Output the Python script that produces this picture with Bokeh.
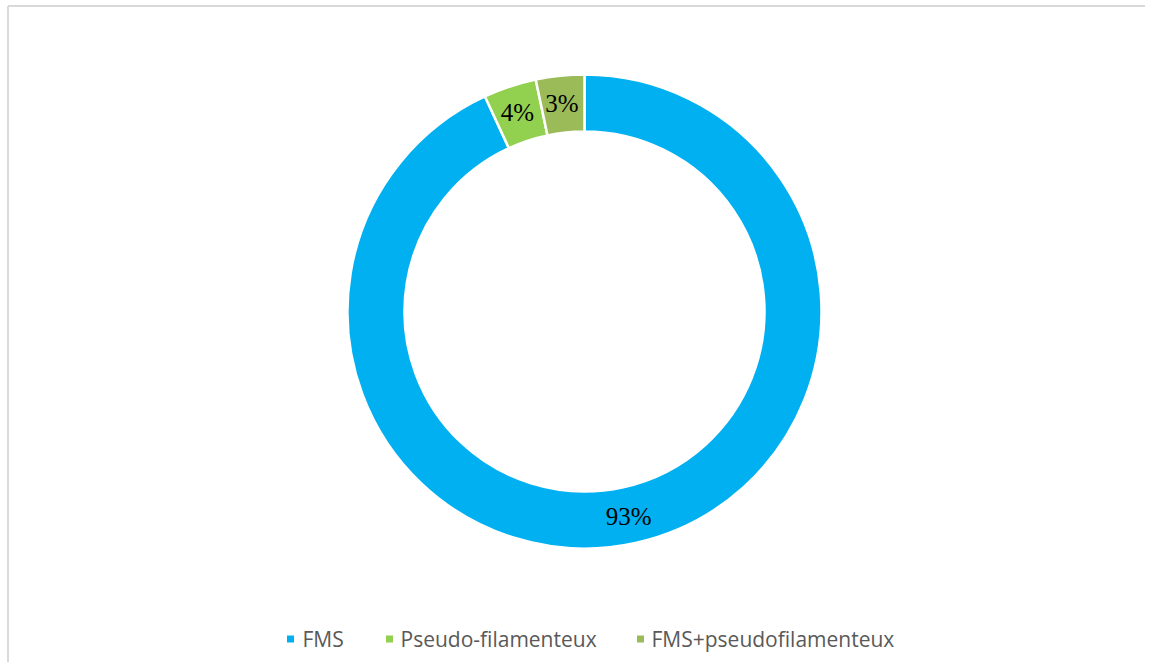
import math
from bokeh.plotting import figure
from bokeh.models import Range1d, ColumnDataSource
from bokeh.core.properties import value
from bokeh.embed import file_html
from bokeh.resources import INLINE

categories = ["FMS", "Pseudo-filamenteux", "FMS+pseudofilamenteux"]
shares = [93.1, 3.6, 3.3]
labels = ["93%", "4%", "3%"]
colors = ["#00B0F0", "#92D050", "#9BBB59"]

W, H = 1145, 662
p = figure(width=W, height=H, output_backend="svg", toolbar_location=None,
           x_range=Range1d(0, W), y_range=Range1d(0, H), min_border=0,
           outline_line_color=None, background_fill_color="white")
p.axis.visible = False
p.grid.visible = False

def py(y):  # screen y -> data y
    return H - y

cx, cy = 584, py(311)
r_out, r_in = 237, 180

total = sum(shares)
starts, ends, lx, ly = [], [], [], []
cum = 0.0
for s in shares:
    a0 = cum / total
    cum += s
    a1 = cum / total
    # clockwise from 12 o'clock
    starts.append(math.pi / 2 - 2 * math.pi * a1)
    ends.append(math.pi / 2 - 2 * math.pi * a0)
    mid = math.pi / 2 - 2 * math.pi * (a0 + a1) / 2
    rm = (r_out + r_in) / 2 + 1
    lx.append(cx + rm * math.cos(mid) - 1)
    ly.append(cy + rm * math.sin(mid))

src = ColumnDataSource(dict(start=starts, end=ends, color=colors,
                            lx=lx, ly=ly, label=labels, cat=categories))
p.annular_wedge(x=cx, y=cy, inner_radius=r_in, outer_radius=r_out,
                start_angle="start", end_angle="end", fill_color="color",
                line_color="white", line_width=2.5, source=src)
p.text(x="lx", y="ly", text="label", source=src, text_align="center",
       text_baseline="middle", text_font=value("Liberation Serif"),
       text_font_size="25px", text_color="black")

# chart border (left and top edges visible)
p.segment(x0=[7.5, 7.5], y0=[py(5.5), py(5.5)], x1=[7.5, W], y1=[0, py(5.5)],
          line_color="#D9D9D9", line_width=2)

# legend
leg_mx = [290, 389, 640]
leg_tx = [302, 400, 651]
leg_y = [py(638.5)] * 3
p.scatter(x=leg_mx, y=leg_y, marker="square", size=7, color=colors, line_color=None)
p.text(x=leg_tx, y=leg_y, text=categories, text_align="left", text_baseline="middle",
       text_font=value("Open Sans"), text_font_size="21px", text_color="#595959")

open("out.html", "w").write(file_html(p, INLINE))
